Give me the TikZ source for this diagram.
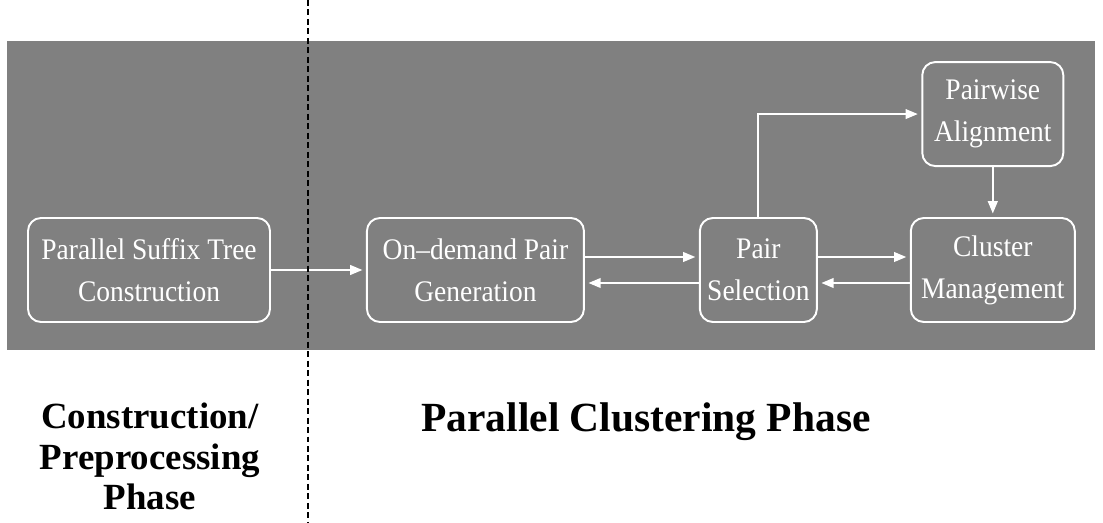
\documentclass[tikz,border=0pt]{standalone}
\usepackage{fontspec}
\setmainfont{Liberation Serif}
\newfontfamily\boxfont[FakeStretch=0.92, Ligatures=TeX]{Liberation Serif}
\usepackage{tikz}
\usetikzlibrary{arrows.meta, positioning}
\usepackage{xcolor}
\definecolor{panel}{HTML}{808080}

\begin{document}
\begin{tikzpicture}[
  stage/.style={rectangle, draw=white, line width=1.1pt, rounded corners=0.26cm,
                text=white, align=center, minimum height=2.08cm, inner sep=2pt,
                font=\boxfont\fontsize{17}{24}\selectfont},
  arr/.style={-{Triangle[length=7pt,width=5.5pt]}, draw=white, line width=1.1pt,
              shorten >=2pt},
  phase/.style={align=center, font=\bfseries\fontsize{21}{23}\selectfont},
  split/.style={line width=1.1pt, dash pattern=on 3.4pt off 2pt}
]

\useasboundingbox (0,0) rectangle (22.06,-10.46);
\fill[panel] (0.14,-0.82) rectangle (21.9,-7.0);

% ----- pipeline -----
\node[stage, minimum width=4.84cm] (pst) at (2.98,-5.4)
  {Parallel Suffix Tree\\Construction};
\node[stage, minimum width=4.34cm, right=1.9cm of pst] (opg)
  {On--demand Pair\\Generation};
\node[stage, minimum width=2.34cm, right=2.28cm of opg] (psel)
  {Pair\\Selection};
\node[stage, minimum width=3.28cm, right=1.84cm of psel] (cmgt)
  {Cluster\\Management};
\node[stage, minimum width=2.82cm, above=1cm of cmgt] (palign)
  {Pairwise\\Alignment};

% ----- arrows -----
\draw[arr] (pst) -- (opg);
\draw[arr] ([yshift=0.26cm]opg.east) -- ([yshift=0.26cm]psel.west);
\draw[arr] ([yshift=-0.26cm]psel.west) -- ([yshift=-0.26cm]opg.east);
\draw[arr] ([yshift=0.26cm]psel.east) -- ([yshift=0.26cm]cmgt.west);
\draw[arr] ([yshift=-0.26cm]cmgt.west) -- ([yshift=-0.26cm]psel.east);
\draw[arr] (psel.north) |- (palign.west);
\draw[arr] (palign) -- (cmgt);

% ----- phases -----
\coordinate (cuttop) at (6.16,0);
\coordinate (cutbot) at (6.16,-10.46);
\draw[split] (cuttop) -- (cutbot);

\node[phase] (prep) at (3.0,-9.13) {Construction/\\Preprocessing\\Phase};
\node[phase, font=\bfseries\fontsize{23.6}{28}\selectfont] (clus) at (12.92,-8.44)
  {Parallel Clustering Phase};

\end{tikzpicture}
\end{document}
